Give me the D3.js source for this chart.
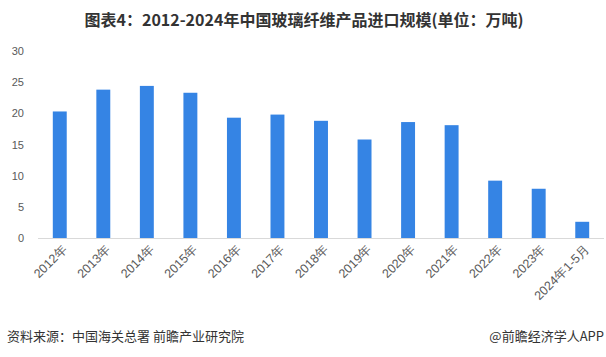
<!DOCTYPE html>
<html><head><meta charset="utf-8">
<script src="https://cdn.jsdelivr.net/npm/d3@7"></script>
<style>
body{margin:0;background:#fff;}
svg{display:block;font-family:"Noto Sans CJK SC","Noto Sans",sans-serif;}
</style></head>
<body><svg id="c" width="606" height="357"></svg>
<script>
const categories = ["2012年","2013年","2014年","2015年","2016年","2017年","2018年","2019年","2020年","2021年","2022年","2023年","2024年1-5月"];
const values = [20.3, 23.8, 24.4, 23.3, 19.3, 19.8, 18.8, 15.8, 18.6, 18.1, 9.2, 7.9, 2.6];
const yTicks = [0, 5, 10, 15, 20, 25, 30];
const title = "图表4：2012-2024年中国玻璃纤维产品进口规模(单位：万吨)";
const source = "资料来源：中国海关总署 前瞻产业研究院";
const brand = "@前瞻经济学人APP";

const svg = d3.select("#c");
const x = d3.scaleBand().domain(categories).range([38, 604]).paddingInner(0.68).paddingOuter(0.34);
const y = d3.scaleLinear().domain([0, 30]).range([238, 51]);

svg.append("text").attr("x", 304).attr("y", 26).attr("text-anchor", "middle")
  .attr("font-size", 16).attr("font-weight", "bold").attr("fill", "#333").text(title);

// y axis labels
const ya = svg.append("g").attr("transform", "translate(24,0)")
  .call(d3.axisLeft(y).tickValues(yTicks).tickSize(0).tickPadding(0));
ya.select(".domain").remove();
ya.selectAll("text").attr("font-size", 11).attr("fill", "#595959").attr("font-family", "inherit");

// bars
svg.append("g").selectAll("rect").data(values).join("rect")
  .attr("x", (d, i) => x(categories[i]))
  .attr("width", x.bandwidth())
  .attr("y", d => y(d))
  .attr("height", d => y(0) - y(d))
  .attr("fill", "#3584e4");

// x axis
const xa = svg.append("g").attr("transform", "translate(0," + y(0) + ")")
  .call(d3.axisBottom(x).tickSize(0).tickPadding(0));
xa.select(".domain").attr("stroke", "#d9d9d9").attr("d", "M38,0.5H604");
xa.selectAll("text").attr("font-size", 12.5).attr("fill", "#595959").attr("font-family", "inherit")
  .attr("text-anchor", "end").attr("dy", null)
  .attr("transform", "translate(8,12) rotate(-45)");

svg.append("text").attr("x", 7).attr("y", 341).attr("font-size", 13).attr("fill", "#333").text(source);
svg.append("text").attr("x", 604).attr("y", 341).attr("text-anchor", "end").attr("font-size", 13).attr("fill", "#333").text(brand);
</script></body></html>
